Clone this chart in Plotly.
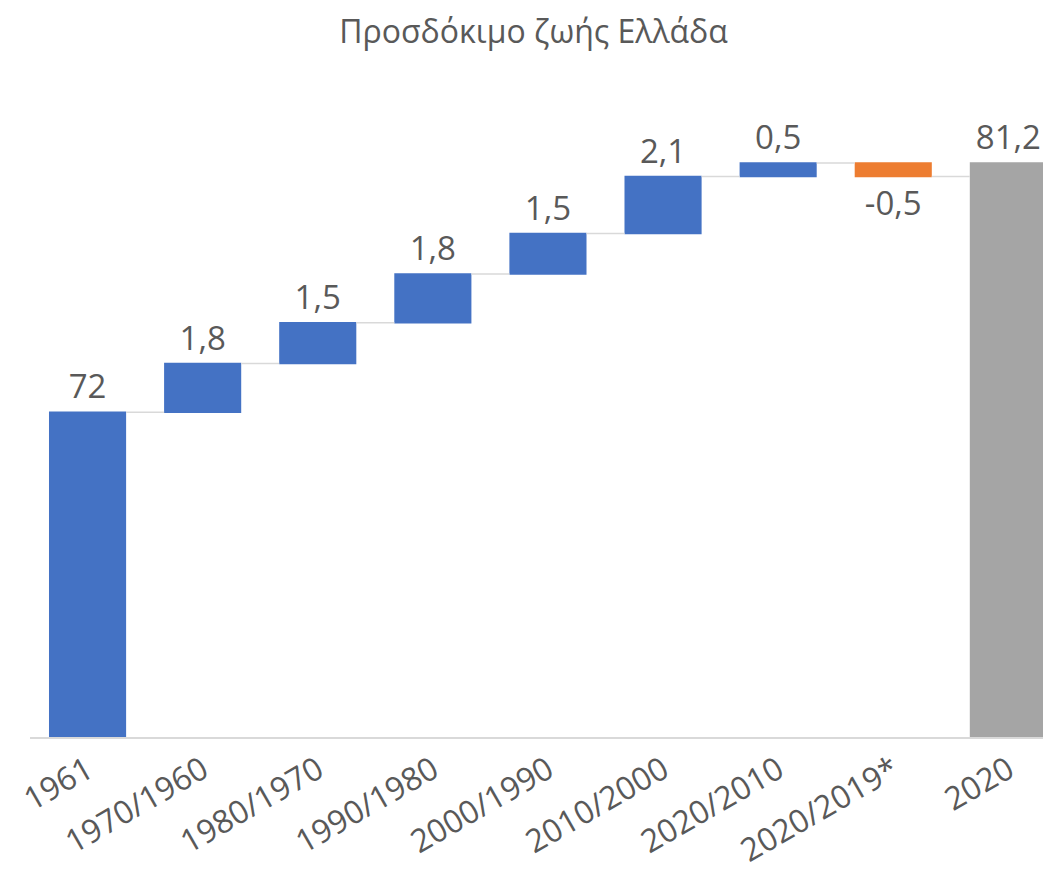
import plotly.graph_objects as go

categories = ["1961", "1970/1960", "1980/1970", "1990/1980", "2000/1990",
              "2010/2000", "2020/2010", "2020/2019*", "2020"]
values = [72, 1.8, 1.5, 1.8, 1.5, 2.1, 0.5, -0.5, 81.2]
measures = ["relative"] * 8 + ["absolute"]

labels = [("%g" % v).replace(".", ",") for v in values]

fig = go.Figure(go.Waterfall(
    x=categories,
    y=values,
    measure=measures,
    text=labels,
    textposition="outside",
    textfont=dict(size=33, color="#595959"),
    constraintext="none",
    cliponaxis=False,
    increasing=dict(marker=dict(color="#4472C4")),
    decreasing=dict(marker=dict(color="#ED7D31")),
    totals=dict(marker=dict(color="#A5A5A5")),
    connector=dict(line=dict(color="#D9D9D9", width=1.5)),
    showlegend=False,
))

fig.update_layout(
    width=1051, height=881,
    title=dict(text="Προσδόκιμο ζωής Ελλάδα", x=0.5, xanchor="center",
               y=0.973, yanchor="middle",
               font=dict(size=32, color="#595959", family="Open Sans")),
    font=dict(family="Open Sans", color="#595959"),
    plot_bgcolor="white", paper_bgcolor="white",
    margin=dict(l=22, r=0, t=92, b=152),
    waterfallgap=0.33,
    xaxis=dict(range=[-0.5, 8.44], tickangle=-30, tickfont=dict(size=32, color="#595959"),
               showline=True, linecolor="#D9D9D9", linewidth=1.5, ticks="",
               automargin=False),
    yaxis=dict(range=[60, 83.53], visible=False),
)

fig.write_html("out.html")
